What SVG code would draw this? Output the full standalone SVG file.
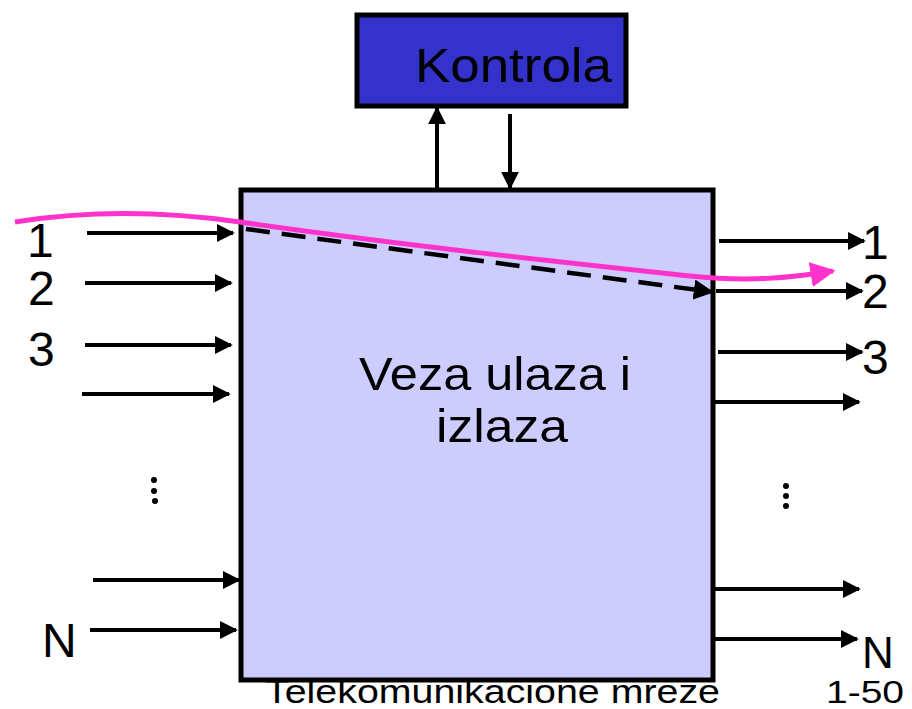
<svg xmlns="http://www.w3.org/2000/svg" width="912" height="709" viewBox="0 0 912 709">
<style>
text{font-family:"Liberation Sans","DejaVu Sans",sans-serif;fill:#000}
.lbl{font-size:48px}
.arr{stroke:#000;stroke-width:4;fill:none;marker-end:url(#ah)}
.dot{fill:#000}
</style>
<defs>
<marker id="ah" viewBox="0 0 10 10" refX="9" refY="5" markerWidth="4.5" markerHeight="4.5" orient="auto" markerUnits="strokeWidth">
<path d="M0,0 L10,5 L0,10 z" fill="#000"/>
</marker>
<marker id="ahm" viewBox="0 0 10 10" refX="9" refY="5" markerWidth="5" markerHeight="5" orient="auto" markerUnits="strokeWidth">
<path d="M0,0 L10,5 L0,10 z" fill="#FF33CC"/>
</marker>
</defs>
<rect width="912" height="709" fill="#fff"/>
<g id="switch">
<rect x="241" y="190" width="472" height="490" fill="#CCCCFF" stroke="#000" stroke-width="5"/>
<text x="495" y="390" font-size="46" text-anchor="middle" textLength="272" lengthAdjust="spacingAndGlyphs">Veza ulaza i</text>
<text x="502" y="442" font-size="46" text-anchor="middle" textLength="132" lengthAdjust="spacingAndGlyphs">izlaza</text>
</g>
<g id="kontrola">
<rect x="357" y="15" width="269" height="91" fill="#3333CC" stroke="#000" stroke-width="5"/>
<text x="415" y="82" font-size="48" textLength="197" lengthAdjust="spacingAndGlyphs">Kontrola</text>
</g>
<g id="connectors">
<line class="arr" x1="437" y1="188" x2="437" y2="108"/>
<line class="arr" x1="510" y1="114" x2="510" y2="188"/>
<line class="arr" x1="87" y1="233" x2="233" y2="233"/>
<line class="arr" x1="85" y1="283" x2="231" y2="283"/>
<line class="arr" x1="85" y1="345" x2="231" y2="345"/>
<line class="arr" x1="82" y1="394" x2="229" y2="394"/>
<line class="arr" x1="93" y1="580" x2="239" y2="580"/>
<line class="arr" x1="90" y1="630" x2="236" y2="630"/>
<line class="arr" x1="719" y1="241" x2="864" y2="241"/>
<line class="arr" x1="716" y1="291" x2="862" y2="291"/>
<line class="arr" x1="718" y1="352" x2="862" y2="352"/>
<line class="arr" x1="713" y1="402" x2="859" y2="402"/>
<line class="arr" x1="713" y1="589" x2="859" y2="589"/>
<line class="arr" x1="713" y1="639" x2="857" y2="639"/>
<line x1="246" y1="229" x2="712" y2="292" stroke="#000" stroke-width="4.5" stroke-dasharray="24 12" marker-end="url(#ah)"/>
<path d="M15,222 C90,210 170,212 240,222 C400,245 560,262 690,276 C750,282 790,278 833,271" fill="none" stroke="#FF33CC" stroke-width="5" marker-end="url(#ahm)"/>
</g>
<g id="labels">
<text class="lbl" x="27" y="257">1</text>
<text class="lbl" x="28" y="305">2</text>
<text class="lbl" x="28" y="366">3</text>
<text class="lbl" x="42" y="657">N</text>
<text class="lbl" x="862" y="259">1</text>
<text class="lbl" x="862" y="308">2</text>
<text class="lbl" x="862" y="374">3</text>
<text x="862" y="668" font-size="44">N</text>
<circle class="dot" cx="154" cy="480" r="3"/>
<circle class="dot" cx="154" cy="491" r="3"/>
<circle class="dot" cx="155" cy="501" r="3"/>
<circle class="dot" cx="786" cy="486" r="3"/>
<circle class="dot" cx="786" cy="496" r="3"/>
<circle class="dot" cx="786" cy="506" r="3"/>
<text x="265" y="703" font-size="34" textLength="455" lengthAdjust="spacingAndGlyphs">Telekomunikacione mreze</text>
<text x="826" y="703" font-size="31" textLength="78" lengthAdjust="spacingAndGlyphs">1-50</text>
</g>
</svg>
